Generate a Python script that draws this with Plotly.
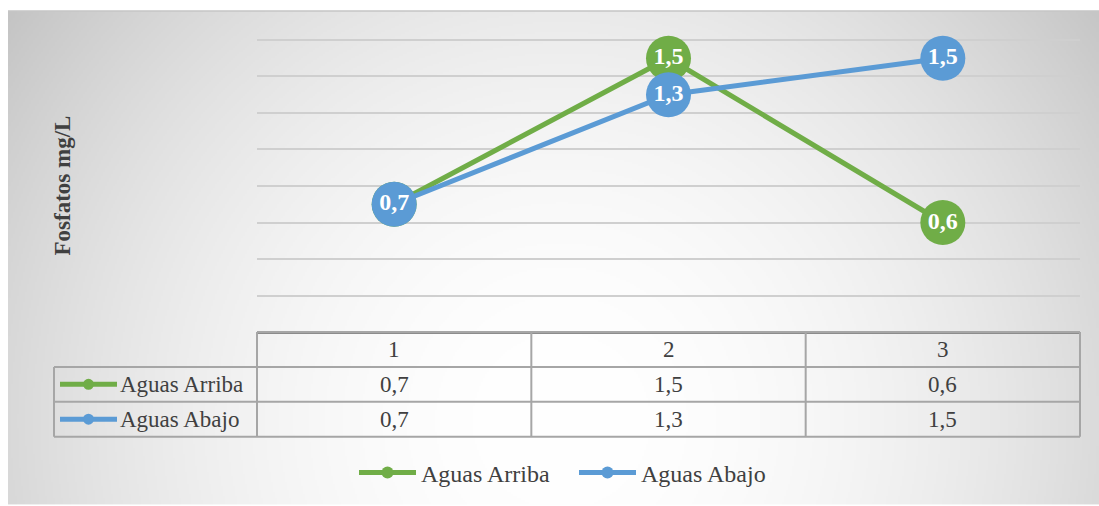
import base64
import struct
import zlib

import numpy as np
import plotly.graph_objects as go

# ---- data -------------------------------------------------------------
categories = [1, 2, 3]
series_names = ["Aguas Arriba", "Aguas Abajo"]
aguas_arriba = [0.7, 1.5, 0.6]
aguas_abajo = [0.7, 1.3, 1.5]
y_ticks = [0, 0.2, 0.4, 0.6, 0.8, 1.0, 1.2, 1.4, 1.6]

colors = {"Aguas Arriba": "#70AD47", "Aguas Abajo": "#5B9BD5"}
series_values = {"Aguas Arriba": aguas_arriba, "Aguas Abajo": aguas_abajo}

# ---- layout geometry (pixels) ------------------------------------------
W, H = 1099, 506
GRID_TOP = 40                     # pixel row of the highest gridline
ML, MR, MT, MB = 257, 19, 37, 173
PW, PH = W - ML - MR, H - MT - MB
Y_MAX = y_ticks[-1] * PH / (H - MB - GRID_TOP)   # headroom so the top gridline shows
ROW_H = 35
LABEL_COL_LEFT = 54
TEXT_COLOR = "#404040"
BORDER = "#a6a6a6"
FONT = "Liberation Serif"
CELL_SIZE = 23


def px_x(px):
    return (px - ML) / PW


def px_y(py):
    return (H - MB - py) / PH


def cat_to_paper(c):
    return (c - 0.5) / len(categories)


def fmt(v):
    return f"{v:.1f}".replace(".", ",")


def gradient_png(w, h, cx, cy, k, vmin):
    yy, xx = np.mgrid[0:h, 0:w].astype(float)
    d2 = (xx - cx) ** 2 + (yy - cy) ** 2
    v = np.clip(255 - k * d2, vmin, 255).astype(np.uint8)
    img = np.stack([v, v, v], axis=-1)
    raw = b"".join(b"\x00" + img[r].tobytes() for r in range(h))

    def chunk(tag, data):
        return (struct.pack(">I", len(data)) + tag + data
                + struct.pack(">I", zlib.crc32(tag + data) & 0xFFFFFFFF))

    png = (b"\x89PNG\r\n\x1a\n"
           + chunk(b"IHDR", struct.pack(">IIBBBBB", w, h, 8, 2, 0, 0, 0))
           + chunk(b"IDAT", zlib.compress(raw, 9))
           + chunk(b"IEND", b""))
    return "data:image/png;base64," + base64.b64encode(png).decode()


# background panel (radial grey-to-white fill), built at half resolution
PANEL_X0, PANEL_Y0, PANEL_X1, PANEL_Y1 = 8, 11, 1099, 506
s = 2
bg_uri = gradient_png((PANEL_X1 - PANEL_X0) // s, (PANEL_Y1 - PANEL_Y0) // s,
                      (560 - PANEL_X0) / s, (420 - PANEL_Y0) / s,
                      1.25e-4 * s * s, 190)

fig = go.Figure()

for name in series_names:
    vals = series_values[name]
    fig.add_trace(go.Scatter(
        x=categories, y=vals, name=name, showlegend=False,
        mode="lines+markers+text",
        line=dict(color=colors[name], width=5),
        marker=dict(size=45, color=colors[name]),
        text=[fmt(v) for v in vals], textposition="middle center",
        textfont=dict(family=FONT, size=24, color="white", weight="bold"),
        cliponaxis=False, hoverinfo="skip",
    ))

# legend entries
for name in series_names:
    fig.add_trace(go.Scatter(
        x=[None], y=[None], name=name, mode="lines+markers",
        line=dict(color=colors[name], width=5),
        marker=dict(size=12, color=colors[name]),
    ))

shapes = []
annotations = []

# data table below the plot
row_tops = [H - MB + i * ROW_H for i in range(4)]
x_left_data = px_x(ML)
x_right = cat_to_paper(categories[-1] + 0.5)
x_label_left = px_x(LABEL_COL_LEFT)


def hline(x0, x1, py):
    shapes.append(dict(type="line", xref="paper", yref="paper",
                       x0=x0, x1=x1, y0=px_y(py), y1=px_y(py),
                       line=dict(color=BORDER, width=2)))


def vline(x, py0, py1):
    shapes.append(dict(type="line", xref="paper", yref="paper",
                       x0=x, x1=x, y0=px_y(py0), y1=px_y(py1),
                       line=dict(color=BORDER, width=2)))


hline(x_left_data, x_right, row_tops[0])
for py in row_tops[1:]:
    hline(x_label_left, x_right, py)
vline(x_label_left, row_tops[1], row_tops[3])
vline(x_left_data, row_tops[0], row_tops[3])
for c in categories:
    vline(cat_to_paper(c + 0.5), row_tops[0], row_tops[3])

cell_font = dict(family=FONT, size=CELL_SIZE, color=TEXT_COLOR)


def cell_text(x, y, text, xanchor="center"):
    annotations.append(dict(xref="paper", yref="paper", x=x, y=y, text=text,
                            xanchor=xanchor, yanchor="middle",
                            showarrow=False, font=cell_font))


for c in categories:
    cell_text(cat_to_paper(c), px_y(row_tops[0] + ROW_H / 2), str(c))
for r, name in enumerate(series_names):
    yc = px_y(row_tops[r + 1] + ROW_H / 2)
    for c, v in zip(categories, series_values[name]):
        cell_text(cat_to_paper(c), yc, fmt(v))
    # series key in the label column
    shapes.append(dict(type="line", xref="paper", yref="paper",
                       x0=px_x(60), x1=px_x(117), y0=yc, y1=yc,
                       line=dict(color=colors[name], width=5)))
    shapes.append(dict(type="circle", xref="paper", yref="paper",
                       x0=px_x(83), x1=px_x(94), y0=yc - 5.5 / PH,
                       y1=yc + 5.5 / PH, fillcolor=colors[name],
                       line=dict(width=0)))
    cell_text(px_x(118), yc, name, xanchor="left")

# top edge of the panel
shapes.append(dict(type="line", xref="paper", yref="paper",
                   x0=px_x(PANEL_X0), x1=px_x(W), y0=px_y(PANEL_Y0),
                   y1=px_y(PANEL_Y0), line=dict(color="#c4c4c4", width=1.5)))

# y-axis title
annotations.append(dict(xref="paper", yref="paper", x=px_x(62),
                        y=px_y(186), xanchor="center", yanchor="middle",
                        text="Fosfatos mg/L", textangle=-90, showarrow=False,
                        font=dict(family=FONT, size=23, color=TEXT_COLOR,
                                  weight="bold")))

fig.update_layout(
    width=W, height=H,
    margin=dict(l=ML, r=MR, t=MT, b=MB),
    paper_bgcolor="white",
    plot_bgcolor="rgba(0,0,0,0)",
    images=[dict(source=bg_uri, xref="paper", yref="paper",
                 x=px_x(PANEL_X0), y=px_y(PANEL_Y0),
                 sizex=(PANEL_X1 - PANEL_X0) / PW,
                 sizey=(PANEL_Y1 - PANEL_Y0) / PH,
                 xanchor="left", yanchor="top", sizing="stretch",
                 layer="below")],
    xaxis=dict(range=[categories[0] - 0.5, categories[-1] + 0.5],
               showticklabels=False, showgrid=False, zeroline=False,
               showline=True, linecolor="#8c8c8c", linewidth=2,
               ticks=""),
    yaxis=dict(range=[y_ticks[0], Y_MAX], tickvals=y_ticks,
               showticklabels=False, gridcolor="#cfcfcf", gridwidth=2,
               zeroline=False, ticks=""),
    legend=dict(orientation="h", x=px_x(354), xanchor="left",
                y=px_y(473), yanchor="middle", bgcolor="rgba(0,0,0,0)",
                font=dict(family=FONT, size=24, color=TEXT_COLOR),
                itemwidth=57, entrywidth=148, entrywidthmode="pixels",
                tracegroupgap=0),
    shapes=shapes,
    annotations=annotations,
    showlegend=True,
)

fig.write_html("out.html")
